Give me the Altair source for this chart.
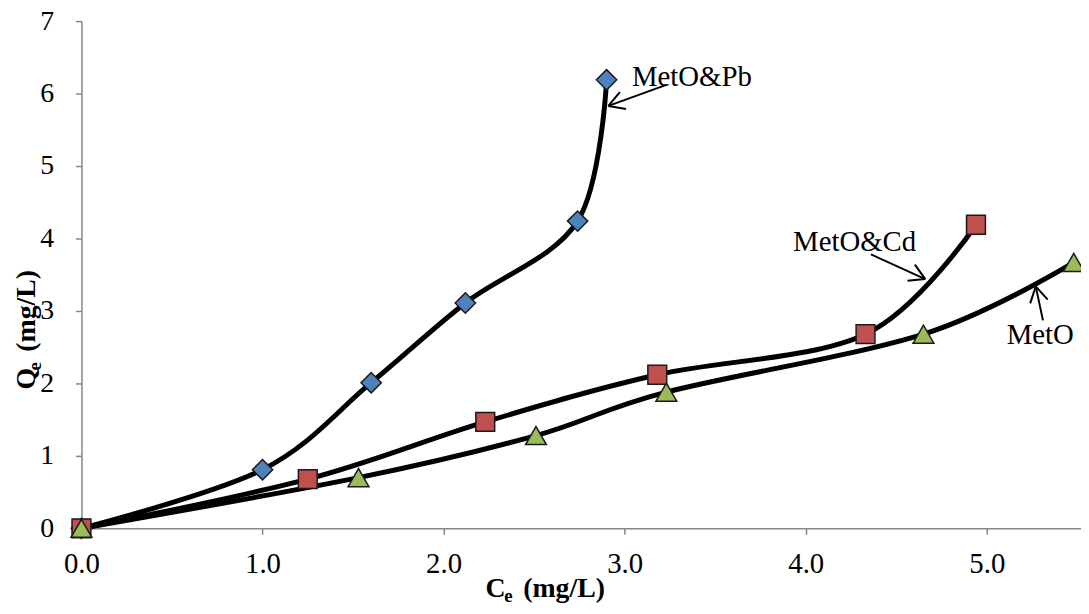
import math
import altair as alt
import pandas as pd

# ---- data ----
pb_x = [0.0, 1.00, 1.60, 2.12, 2.74, 2.90]
pb_y = [0.0, 0.81, 2.01, 3.11, 4.24, 6.19]
cd_x = [0.0, 1.25, 2.23, 3.18, 4.33, 4.94]
cd_y = [0.0, 0.68, 1.47, 2.12, 2.68, 4.19]
meto_x = [0.0, 1.53, 2.51, 3.23, 4.65, 5.48]
meto_y = [0.0, 0.70, 1.28, 1.88, 2.68, 3.67]
series_names = ["MetO&Pb", "MetO&Cd", "MetO"]

x_ticks = [0, 1, 2, 3, 4, 5]
y_ticks = [0, 1, 2, 3, 4, 5, 6, 7]

# annotation labels and arrows (data units)
label_text = ["MetO&Pb", "MetO&Cd", "MetO"]
label_x = [3.04, 3.93, 5.11]
label_y = [6.11, 3.83, 2.55]
tail_x = [3.23, 4.36, 5.31]
tail_y = [6.12, 3.78, 2.87]
tip_x = [2.91, 4.66, 5.27]
tip_y = [5.83, 3.44, 3.34]

# ---- layout ----
W, H = 1007, 511
X_MAX, Y_MAX = 5.52, 7
PX_X = W / X_MAX
PX_Y = H / Y_MAX
FONT = "Liberation Serif"

rows = []
for name, xs, ys in [(series_names[0], pb_x, pb_y),
                     (series_names[1], cd_x, cd_y),
                     (series_names[2], meto_x, meto_y)]:
    for i, (a, b) in enumerate(zip(xs, ys)):
        rows.append({"series": name, "x": a, "y": b, "i": i})
df = pd.DataFrame(rows)

xs = alt.Scale(domain=[0, X_MAX], nice=False, zero=True)
ys = alt.Scale(domain=[0, Y_MAX], nice=False)

x_axis = alt.Axis(values=x_ticks, format=".1f", title=None, grid=False,
                  labelFont=FONT, labelFontSize=29, labelColor="black",
                  domainColor="#868686", tickColor="#868686", domainWidth=1.5,
                  tickWidth=1.5, tickSize=6, labelPadding=15, labelFlush=False,
                  labelOverlap=False, labelBound=False)
y_axis = alt.Axis(values=y_ticks, format="d", title=None, grid=False,
                  labelFont=FONT, labelFontSize=28, labelColor="black",
                  domainColor="#868686", tickColor="#868686", domainWidth=1.5,
                  tickWidth=1.5, tickSize=6, labelPadding=22, labelFlush=False,
                  labelOverlap=False, labelBound=False)

base = alt.Chart(df)

lines = base.mark_line(interpolate="cardinal", color="black", strokeWidth=5).encode(
    x=alt.X("x:Q", scale=xs, axis=x_axis),
    y=alt.Y("y:Q", scale=ys, axis=y_axis),
    detail="series:N",
    order="i:Q",
)

def markers(name, shape, color, size):
    return alt.Chart(df[df.series == name]).mark_point(
        shape=shape, filled=True, fill=color, stroke="#1a1a1a",
        strokeWidth=1.5, size=size, opacity=1
    ).encode(x=alt.X("x:Q", scale=xs), y=alt.Y("y:Q", scale=ys))

m_pb = markers("MetO&Pb", "diamond", "#4F81BD", 420)
m_cd = markers("MetO&Cd", "square", "#C0504D", 360)
m_me = markers("MetO", "triangle-up", "#9BBB59", 440)

# annotation text
lab_df = pd.DataFrame({"t": label_text, "x": label_x, "y": label_y})
labels = alt.Chart(lab_df).mark_text(
    font=FONT, fontSize=29, align="left", baseline="alphabetic", color="black"
).encode(x=alt.X("x:Q", scale=xs), y=alt.Y("y:Q", scale=ys), text="t:N")

# arrows: shaft + two wings
seg = []
wing = 18.0
for k in range(len(tip_x)):
    seg.append({"x": tail_x[k], "y": tail_y[k], "x2": tip_x[k], "y2": tip_y[k]})
    dx = (tail_x[k] - tip_x[k]) * PX_X
    dy = -(tail_y[k] - tip_y[k]) * PX_Y
    L = math.hypot(dx, dy)
    ux, uy = dx / L, dy / L
    for ang in (math.radians(30), -math.radians(30)):
        c, s = math.cos(ang), math.sin(ang)
        wx = c * ux - s * uy
        wy = s * ux + c * uy
        seg.append({"x": tip_x[k], "y": tip_y[k],
                    "x2": tip_x[k] + wing * wx / PX_X,
                    "y2": tip_y[k] - wing * wy / PX_Y})
arrows = alt.Chart(pd.DataFrame(seg)).mark_rule(color="black", strokeWidth=2).encode(
    x=alt.X("x:Q", scale=xs), y=alt.Y("y:Q", scale=ys),
    x2="x2:Q", y2="y2:Q")

# axis titles with subscripts
def txt(t, x, y, size, angle=0):
    kw = dict(font=FONT, fontSize=size, fontWeight="bold", align="left",
              baseline="alphabetic", color="black")
    if angle:
        kw["angle"] = angle
    return alt.Chart(pd.DataFrame({"t": [t]})).mark_text(**kw).encode(
        x=alt.value(x), y=alt.value(y), text="t:N")

xt = txt("C", 407, 580, 28) + txt("e", 426, 585, 19) + txt("(mg/L)", 445, 580, 28)
yt = (txt("Q", -47, 371, 28, 270) + txt("e", -41, 352, 19, 270)
      + txt("(mg/L)", -47, 333, 28, 270))

chart = alt.layer(lines, arrows, m_pb, m_cd, m_me, labels, xt, yt).properties(
    width=W, height=H,
    autosize=alt.AutoSizeParams(type="none"),
    padding={"left": 74, "top": 11, "right": 0, "bottom": 76},
).configure_view(stroke=None)

chart.save("out.html", embed_options={"renderer": "svg", "actions": False})
